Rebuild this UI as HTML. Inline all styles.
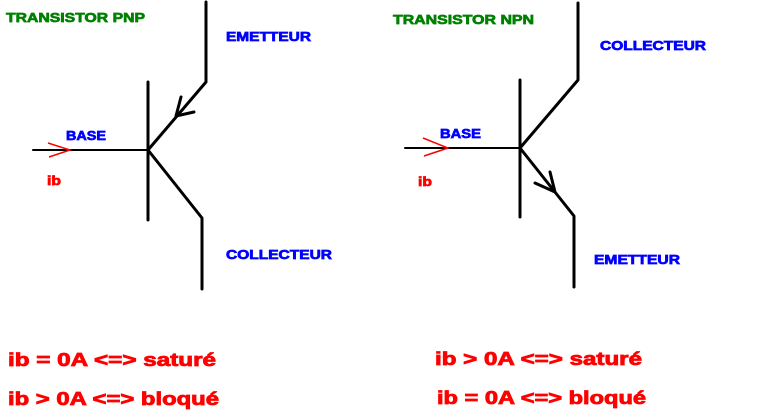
<!DOCTYPE html>
<html><head><meta charset="utf-8"><style>
html,body{margin:0;padding:0;background:#fff;width:758px;height:417px;overflow:hidden}
svg{display:block}
text{font-family:"Liberation Sans",Arial,sans-serif;font-weight:bold}
</style></head><body>
<svg width="758" height="417" viewBox="0 0 758 417" xmlns="http://www.w3.org/2000/svg">
<g stroke="#000" stroke-width="3" fill="none" stroke-linecap="round" stroke-linejoin="round">
<polyline points="206,2 206,82 148,150"/>
<line x1="148" y1="82" x2="148" y2="220"/>
<polyline points="148,150 202,218 202,289"/>
<line x1="33" y1="150" x2="148" y2="150" stroke-width="2"/>
<polyline points="181,97 176,116 194,112"/>
<polyline points="578,3 578,80 520,148"/>
<line x1="520" y1="80" x2="520" y2="217"/>
<polyline points="520,148 574,216 574,287"/>
<line x1="405" y1="148" x2="520" y2="148" stroke-width="2"/>
<polyline points="550,172 555,192 535,183"/>
</g>
<g stroke="#f00" stroke-width="1.5" fill="none">
<polyline points="48,143 70,150 49,157"/>
<polyline points="423,138 448,148 424,156"/>
</g>
<g font-size="13" stroke-width="0.7">
<text x="6" y="22" fill="#008000" stroke="#008000" textLength="139" lengthAdjust="spacingAndGlyphs">TRANSISTOR PNP</text>
<text x="226" y="41" fill="#0000ff" stroke="#0000ff" textLength="85" lengthAdjust="spacingAndGlyphs">EMETTEUR</text>
<text x="66" y="140" fill="#0000ff" stroke="#0000ff" textLength="40" lengthAdjust="spacingAndGlyphs">BASE</text>
<text x="47" y="185" fill="#ff0000" stroke="#ff0000" textLength="14" lengthAdjust="spacingAndGlyphs">ib</text>
<text x="226" y="259" fill="#0000ff" stroke="#0000ff" textLength="106" lengthAdjust="spacingAndGlyphs">COLLECTEUR</text>
<text x="393" y="24" fill="#008000" stroke="#008000" textLength="141" lengthAdjust="spacingAndGlyphs">TRANSISTOR NPN</text>
<text x="600" y="50" fill="#0000ff" stroke="#0000ff" textLength="106" lengthAdjust="spacingAndGlyphs">COLLECTEUR</text>
<text x="440" y="138" fill="#0000ff" stroke="#0000ff" textLength="41" lengthAdjust="spacingAndGlyphs">BASE</text>
<text x="418" y="186" fill="#ff0000" stroke="#ff0000" textLength="14" lengthAdjust="spacingAndGlyphs">ib</text>
<text x="594" y="264" fill="#0000ff" stroke="#0000ff" textLength="86" lengthAdjust="spacingAndGlyphs">EMETTEUR</text>
</g>
<g font-size="18" fill="#ff0000" stroke="#ff0000" stroke-width="0.8">
<text x="8" y="366" textLength="208" lengthAdjust="spacingAndGlyphs">ib = 0A &lt;=&gt; saturé</text>
<text x="8" y="405" textLength="211" lengthAdjust="spacingAndGlyphs">ib &gt; 0A &lt;=&gt; bloqué</text>
<text x="435" y="365" textLength="207" lengthAdjust="spacingAndGlyphs">ib &gt; 0A &lt;=&gt; saturé</text>
<text x="437" y="404" textLength="209" lengthAdjust="spacingAndGlyphs">ib = 0A &lt;=&gt; bloqué</text>
</g>
</svg>
</body></html>
